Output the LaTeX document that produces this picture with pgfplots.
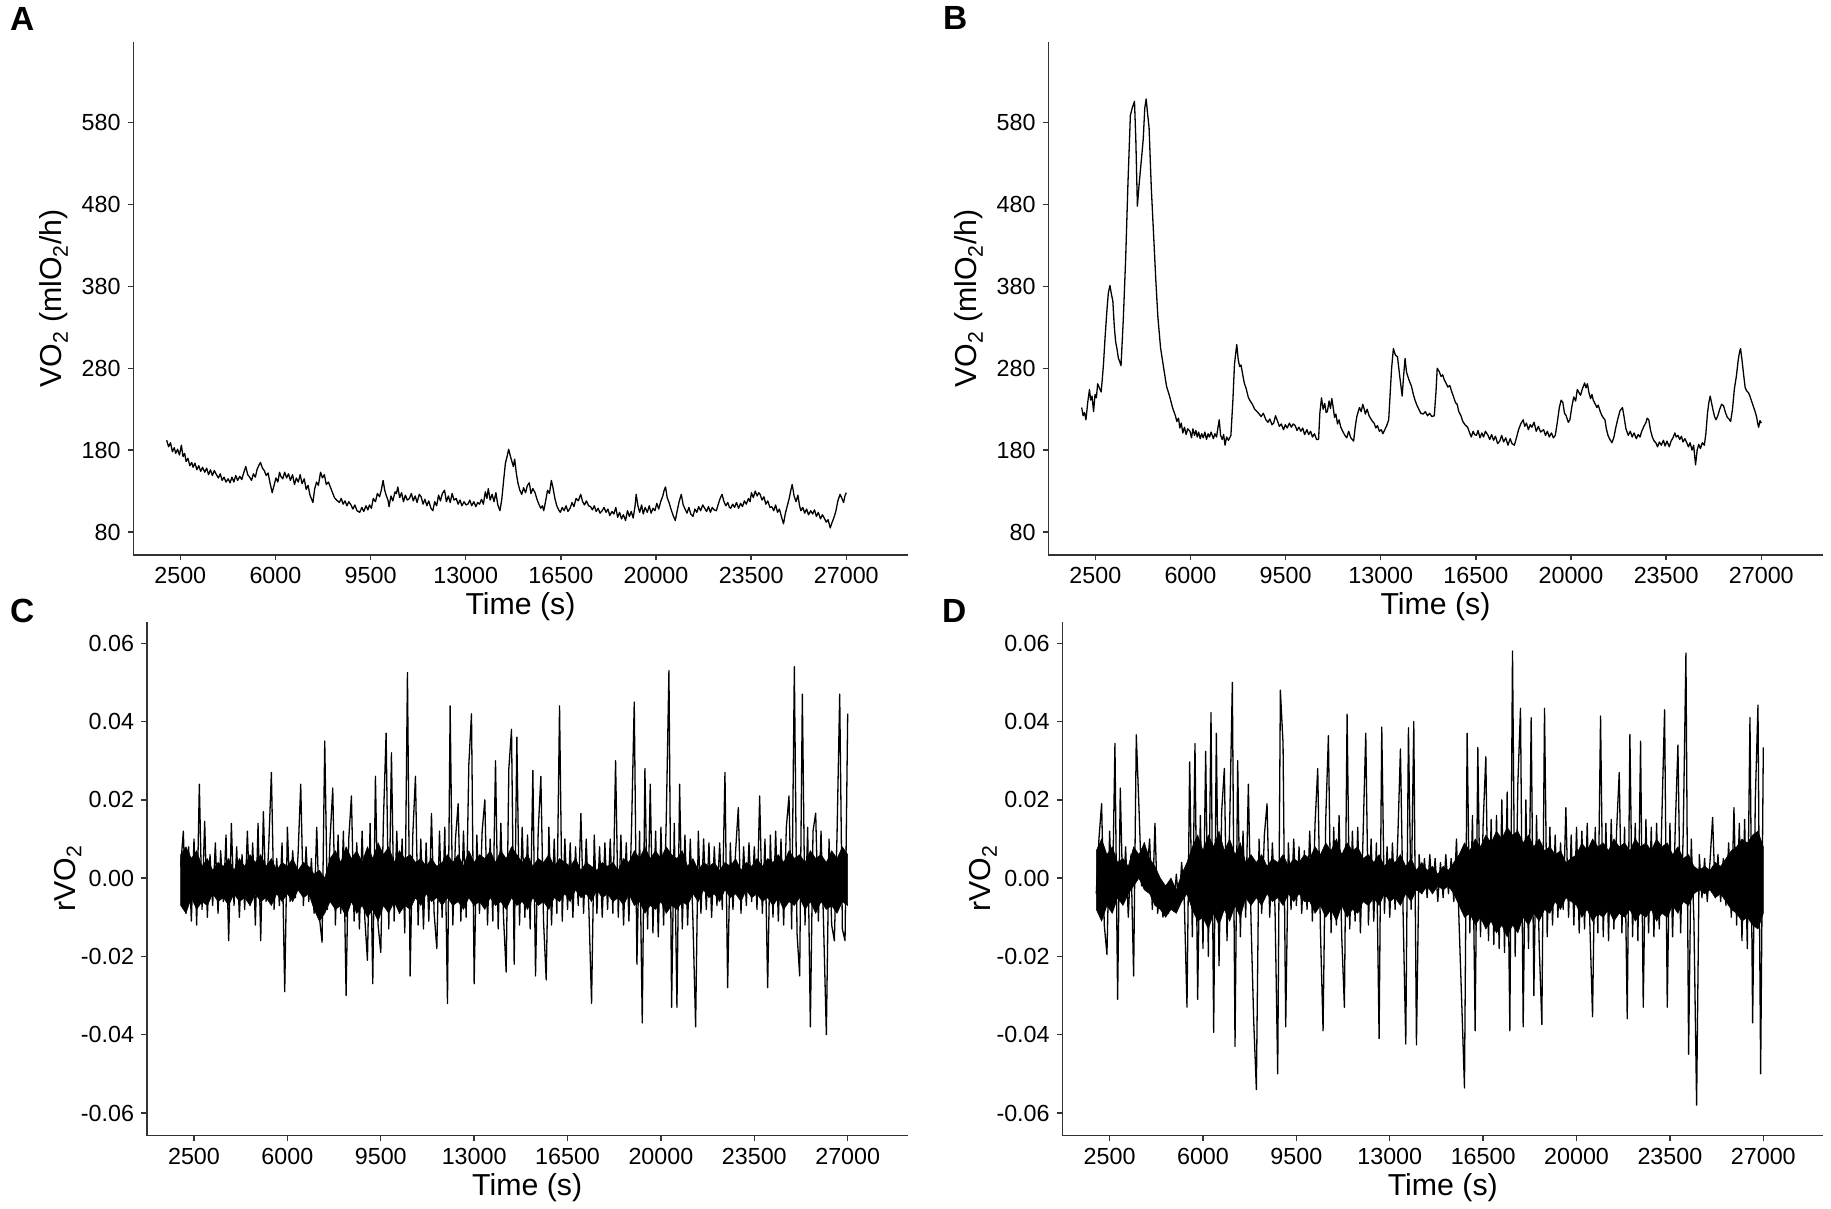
\documentclass[border=0pt]{standalone}
\usepackage{fontspec}
\setmainfont{Liberation Sans}
\usepackage{pgfplots}
\pgfplotsset{compat=1.18}
\begin{document}
\begin{tikzpicture}[x=1pt,y=1pt]
\path[use as bounding box] (0,0) rectangle (1831,1209);
\pgfplotsset{
 panel/.style={
  scale only axis,
  axis x line*=bottom, axis y line*=left,
  axis line style={-, line width=1.6pt, black!80},
  every tick/.style={line width=1.4pt, black!80},
  major tick length=5.5pt,
  tick align=outside,
  scaled x ticks=false, scaled y ticks=false,
  xmin=771, xmax=29259,
  xtick={2500,6000,9500,13000,16500,20000,23500,27000},
  xticklabels={2500,6000,9500,13000,16500,20000,23500,27000},
  ticklabel style={font=\fontsize{23.3}{28}\selectfont, text=black},
  xticklabel style={anchor=north, inner sep=0pt, yshift=-7pt},
  yticklabel style={anchor=east, inner sep=0pt, xshift=-7pt},
  xlabel={Time (s)},
  every axis x label/.style={at={(axis description cs:0.5,0)}, anchor=base, yshift=-60pt, font=\fontsize{30.3}{36}\selectfont},
  every axis y label/.style={at={([xshift=-71.6pt]axis description cs:0,0.5)}, rotate=90, anchor=base, font=\fontsize{30.3}{36}\selectfont},
 },
 toppanel/.style={panel, width=774.4pt, height=513.3pt, ymin=51.9, ymax=678.9,
  ytick={80,180,280,380,480,580}, yticklabels={80,180,280,380,480,580},
  ylabel={VO\textsubscript{2} (mlO\textsubscript{2}/h)}},
 botpanel/.style={panel, width=761pt, height=514pt, xmin=727, xmax=29249, ymin=-0.0658, ymax=0.0655,
  ytick={-0.06,-0.04,-0.02,0,0.02,0.04,0.06}, yticklabels={-0.06,-0.04,-0.02,0.00,0.02,0.04,0.06},
  ylabel={rVO\textsubscript{2}}},
 trace/.style={black, line width=1.3pt, mark=none, line join=round},
 band/.style={fill=black, draw=black, line width=0.5pt, mark=none},
}
% ---------------- A ----------------
\begin{axis}[toppanel, at={(133.3pt,654pt)}, anchor=south west]
\addplot[trace] coordinates {
(2000,192)(2070,184)(2140,189)(2210,178)(2280,183)(2330,176)(2400,181)(2470,174)(2540,186)(2600,172)
(2660,176)(2715,166)(2780,170)(2850,161)(2920,165)(2970,159)(3040,164)(3110,156)(3180,161)(3250,154)
(3320,159)(3400,153)(3470,158)(3540,150)(3610,156)(3680,149)(3750,155)(3830,150)(3900,146)(3970,151)
(4040,143)(4110,147)(4180,141)(4260,145)(4330,140)(4400,147)(4470,141)(4540,149)(4610,143)(4690,148)
(4760,144)(4830,152)(4910,160)(4980,150)(5050,147)(5120,143)(5190,151)(5260,147)(5330,157)(5400,162)
(5450,165)(5520,158)(5590,155)(5660,149)(5730,152)(5800,140)(5880,128)(5950,137)(6020,146)(6090,141)
(6150,153)(6200,148)(6270,145)(6340,153)(6410,146)(6480,151)(6550,143)(6630,150)(6700,138)(6770,146)
(6840,141)(6910,150)(6980,139)(7060,145)(7130,132)(7200,137)(7270,125)(7330,120)(7380,116)(7440,132)
(7510,141)(7580,137)(7660,153)(7730,146)(7800,150)(7870,138)(7950,141)(8030,134)(8100,128)(8170,122)
(8250,119)(8350,116)(8420,121)(8490,114)(8560,118)(8630,112)(8700,117)(8780,113)(8850,108)(8920,113)
(9000,106)(9100,104)(9180,110)(9250,105)(9330,112)(9400,107)(9460,113)(9530,109)(9600,121)(9680,117)
(9750,127)(9830,123)(9900,132)(9960,143)(10020,131)(10080,124)(10140,119)(10180,111)(10250,124)(10320,118)
(10400,129)(10450,127)(10500,135)(10570,122)(10640,128)(10710,117)(10780,125)(10850,119)(10930,121)(11000,127)
(11070,118)(11140,124)(11210,116)(11290,126)(11360,123)(11430,114)(11500,120)(11570,112)(11640,118)(11720,109)
(11790,106)(11860,117)(11930,112)(12000,125)(12070,118)(12140,127)(12220,131)(12290,117)(12360,124)(12430,116)
(12500,127)(12570,119)(12650,121)(12720,114)(12790,119)(12860,112)(12940,117)(13010,113)(13080,114)(13150,119)
(13220,112)(13300,117)(13370,111)(13440,116)(13510,114)(13580,120)(13650,114)(13720,129)(13780,121)(13830,133)
(13900,119)(13970,126)(14040,117)(14110,128)(14180,113)(14260,106)(14330,121)(14400,145)(14460,164)(14520,172)
(14580,181)(14640,173)(14700,166)(14750,160)(14800,169)(14860,152)(14920,140)(14990,131)(15060,126)(15130,134)
(15200,128)(15270,137)(15340,140)(15400,127)(15470,133)(15550,128)(15620,120)(15690,114)(15760,109)(15820,112)
(15870,106)(15940,118)(16010,131)(16080,127)(16150,143)(16210,134)(16280,121)(16350,112)(16420,107)(16480,104)
(16550,110)(16620,106)(16690,112)(16760,105)(16840,109)(16910,116)(16980,111)(17060,121)(17140,118)(17230,126)
(17300,117)(17370,113)(17440,118)(17520,112)(17590,111)(17660,107)(17730,112)(17800,105)(17870,109)(17940,103)
(18020,106)(18090,110)(18160,104)(18230,108)(18300,100)(18380,105)(18450,102)(18520,110)(18590,98)(18660,104)
(18730,96)(18800,101)(18880,94)(18950,106)(19020,99)(19090,105)(19160,97)(19230,112)(19270,126)(19340,111)
(19400,104)(19470,113)(19530,102)(19600,110)(19680,104)(19750,112)(19820,103)(19890,109)(19960,106)(20030,115)
(20100,108)(20170,117)(20250,124)(20300,131)(20350,135)(20410,122)(20480,116)(20550,108)(20620,101)(20710,94)
(20780,106)(20850,117)(20930,126)(21000,113)(21070,108)(21140,103)(21210,110)(21280,102)(21360,99)(21430,108)
(21500,104)(21570,111)(21640,106)(21720,113)(21790,109)(21860,105)(21930,111)(22000,104)(22070,110)(22140,107)
(22220,106)(22290,114)(22360,121)(22430,126)(22500,117)(22570,112)(22640,116)(22700,110)(22750,109)(22820,114)
(22890,110)(22960,116)(23040,109)(23110,115)(23180,111)(23250,118)(23320,114)(23400,121)(23460,117)(23510,128)
(23580,122)(23650,130)(23720,124)(23780,128)(23830,126)(23900,119)(23970,123)(24040,114)(24110,118)(24190,110)
(24260,111)(24330,106)(24400,113)(24470,104)(24540,108)(24620,98)(24690,90)(24760,103)(24830,112)(24900,121)
(24960,131)(25010,138)(25080,124)(25150,117)(25220,125)(25280,112)(25330,106)(25400,110)(25470,103)(25540,108)
(25610,101)(25690,106)(25760,102)(25830,107)(25900,99)(25970,104)(26050,96)(26120,101)(26190,97)(26260,92)
(26330,95)(26410,85)(26480,92)(26550,98)(26620,106)(26690,118)(26770,126)(26840,121)(26900,116)(26950,124)
(27000,128)};
\end{axis}
% ---------------- B ----------------
\begin{axis}[toppanel, at={(1048.3pt,654pt)}, anchor=south west]
\addplot[trace] coordinates {
(2000,232)(2050,222)(2100,226)(2156,217)(2220,238)(2285,254)(2330,241)(2380,246)(2436,227)(2490,248)
(2540,244)(2586,261)(2650,256)(2715,251)(2760,268)(2801,285)(2860,318)(2930,352)(2980,372)(3038,381)
(3090,371)(3145,362)(3200,330)(3250,312)(3296,304)(3350,292)(3400,288)(3446,283)(3530,340)(3618,415)
(3700,505)(3790,589)(3860,598)(3941,606)(3990,560)(4048,478)(4100,500)(4156,521)(4210,540)(4263,560)
(4320,598)(4371,609)(4420,592)(4478,574)(4560,500)(4650,439)(4730,385)(4801,343)(4900,305)(5016,280)
(5120,258)(5231,246)(5340,232)(5446,222)(5500,215)(5560,219)(5610,207)(5661,213)(5720,201)(5780,208)
(5840,199)(5900,206)(5983,203)(6040,195)(6090,206)(6150,198)(6200,204)(6250,196)(6300,202)(6360,194)
(6413,200)(6470,195)(6530,202)(6590,193)(6650,200)(6700,196)(6760,202)(6843,194)(6900,200)(6960,196)
(7000,205)(7058,217)(7110,198)(7170,193)(7220,199)(7273,186)(7330,196)(7400,192)(7488,198)(7560,240)
(7620,285)(7703,309)(7760,290)(7810,282)(7860,284)(7918,273)(7980,262)(8050,255)(8133,244)(8200,240)
(8280,236)(8360,230)(8456,227)(8530,224)(8600,221)(8680,225)(8778,217)(8850,214)(8920,218)(9000,211)
(9060,213)(9130,222)(9208,215)(9270,209)(9340,212)(9423,205)(9490,211)(9560,207)(9640,213)(9710,208)
(9780,212)(9853,210)(9920,204)(9990,208)(10060,203)(10130,207)(10200,199)(10283,205)(10350,199)(10420,203)
(10490,196)(10560,200)(10640,193)(10713,193)(10760,225)(10821,244)(10880,230)(10940,237)(10990,226)(11036,227)
(11100,240)(11150,231)(11200,243)(11251,232)(11300,220)(11350,224)(11410,212)(11466,217)(11530,208)(11600,203)
(11681,198)(11750,195)(11820,203)(11900,195)(12003,191)(12060,208)(12120,221)(12180,228)(12218,232)(12280,227)
(12340,236)(12400,229)(12433,224)(12500,230)(12570,222)(12640,218)(12700,215)(12756,213)(12820,207)(12880,210)
(12950,203)(13020,205)(13078,200)(13150,205)(13220,210)(13293,217)(13340,245)(13400,280)(13465,304)(13540,296)
(13616,294)(13700,270)(13788,246)(13840,270)(13895,292)(13950,275)(14046,265)(14130,258)(14200,248)(14261,241)
(14330,235)(14400,230)(14476,225)(14560,224)(14640,227)(14720,222)(14798,225)(14880,221)(14970,222)(15030,250)
(15078,280)(15150,276)(15220,270)(15280,272)(15336,266)(15400,262)(15470,257)(15540,259)(15615,251)(15680,245)
(15750,238)(15810,236)(15873,227)(15950,222)(16020,215)(16100,211)(16196,208)(16260,202)(16330,196)(16400,203)
(16450,199)(16518,198)(16580,204)(16650,195)(16720,201)(16780,196)(16850,203)(16948,198)(17010,193)(17080,199)
(17150,192)(17220,197)(17300,188)(17378,191)(17450,198)(17520,190)(17600,195)(17680,186)(17760,194)(17830,188)
(17916,186)(18000,196)(18070,205)(18150,212)(18238,217)(18300,209)(18360,213)(18430,205)(18500,211)(18561,208)
(18640,214)(18720,203)(18800,209)(18880,202)(18991,205)(19060,198)(19130,203)(19200,196)(19280,201)(19350,195)
(19421,198)(19500,215)(19570,232)(19636,241)(19700,238)(19760,225)(19820,222)(19900,214)(19958,217)(20030,233)
(20100,245)(20170,240)(20230,254)(20281,251)(20350,247)(20420,255)(20500,262)(20550,256)(20603,261)(20660,250)
(20720,243)(20770,248)(20818,241)(20880,237)(20950,232)(21000,235)(21076,227)(21140,222)(21200,219)(21248,217)
(21300,206)(21360,198)(21430,193)(21506,189)(21580,196)(21650,208)(21720,218)(21800,228)(21893,232)(21950,221)
(22020,206)(22108,198)(22180,203)(22250,196)(22320,201)(22400,194)(22470,199)(22538,196)(22600,203)(22680,209)
(22760,214)(22800,219)(22861,217)(22920,205)(22990,196)(23060,191)(23120,189)(23183,184)(23250,190)(23320,186)
(23400,192)(23460,185)(23530,191)(23613,184)(23680,191)(23750,195)(23820,201)(23870,196)(23936,198)(24000,193)
(24060,197)(24120,190)(24190,194)(24258,189)(24320,184)(24380,189)(24450,180)(24510,186)(24581,162)(24640,180)
(24700,187)(24760,182)(24830,189)(24903,186)(24960,200)(25020,225)(25070,238)(25118,246)(25180,236)(25230,228)
(25280,221)(25333,217)(25400,222)(25470,230)(25540,236)(25613,234)(25680,226)(25750,220)(25810,218)(25871,215)
(25940,230)(26010,255)(26086,271)(26150,290)(26200,300)(26236,304)(26290,290)(26350,272)(26408,256)(26470,252)
(26530,250)(26580,246)(26640,240)(26700,234)(26774,227)(26830,220)(26870,212)(26903,208)(26950,216)(27000,213)};
\end{axis}
% ---------------- C ----------------
\begin{axis}[botpanel, at={(146.7pt,73.3pt)}, anchor=south west]
\addplot[band] coordinates {
(2000,0.006)(2200,0.008)(2400,0.005)(2600,0.007)(2800,0.003)(3000,0.005)(3200,0.002)(3400,0.004)(3600,0.003)(3800,0.005)
(4000,0.002)(4200,0.005)(4400,0.003)(4600,0.006)(4800,0.004)(5000,0.006)(5200,0.003)(5400,0.005)(5600,0.002)(5800,0.004)
(6000,0.003)(6200,0.005)(6400,0.002)(6600,0.004)(6800,0.003)(7000,0.001)(7200,0.002)(7400,0.000)(7600,0.005)(7800,0.007)
(8000,0.004)(8200,0.008)(8400,0.005)(8600,0.007)(8800,0.004)(9000,0.008)(9200,0.005)(9400,0.009)(9600,0.006)(9800,0.008)
(10000,0.004)(10200,0.007)(10400,0.005)(10600,0.006)(10800,0.004)(11000,0.005)(11200,0.003)(11400,0.005)(11600,0.003)(11800,0.004)
(12000,0.006)(12200,0.004)(12400,0.006)(12600,0.003)(12800,0.007)(13000,0.004)(13200,0.006)(13400,0.005)(13600,0.007)(13800,0.004)
(14000,0.007)(14200,0.005)(14400,0.008)(14600,0.006)(14800,0.004)(15000,0.006)(15200,0.003)(15400,0.005)(15600,0.004)(15800,0.006)
(16000,0.003)(16200,0.005)(16400,0.004)(16600,0.003)(16800,0.005)(17000,0.002)(17200,0.004)(17400,0.003)(17600,0.002)(17800,0.004)
(18000,0.003)(18200,0.004)(18400,0.002)(18600,0.005)(18800,0.004)(19000,0.007)(19200,0.005)(19400,0.008)(19600,0.005)(19800,0.007)
(20000,0.005)(20200,0.008)(20400,0.006)(20600,0.005)(20800,0.007)(21000,0.003)(21200,0.005)(21400,0.002)(21600,0.004)(21800,0.003)
(22000,0.004)(22200,0.002)(22400,0.004)(22600,0.003)(22800,0.005)(23000,0.002)(23200,0.004)(23400,0.003)(23600,0.005)(23800,0.003)
(24000,0.005)(24200,0.004)(24400,0.006)(24600,0.004)(24800,0.007)(25000,0.005)(25200,0.006)(25400,0.004)(25600,0.007)(25800,0.005)
(26000,0.006)(26200,0.004)(26400,0.007)(26600,0.005)(26800,0.008)(27000,0.006)
(27000,-0.007)(26800,-0.006)(26600,-0.009)(26400,-0.007)(26200,-0.008)(26000,-0.006)
(25800,-0.009)(25600,-0.006)(25400,-0.008)(25200,-0.005)(25000,-0.007)(24800,-0.006)(24600,-0.008)(24400,-0.005)(24200,-0.007)(24000,-0.005)
(23800,-0.006)(23600,-0.004)(23400,-0.005)(23200,-0.003)(23000,-0.006)(22800,-0.004)(22600,-0.005)(22400,-0.003)(22200,-0.006)(22000,-0.004)
(21800,-0.005)(21600,-0.003)(21400,-0.006)(21200,-0.004)(21000,-0.007)(20800,-0.006)(20600,-0.008)(20400,-0.007)(20200,-0.009)(20000,-0.006)
(19800,-0.008)(19600,-0.007)(19400,-0.009)(19200,-0.006)(19000,-0.007)(18800,-0.004)(18600,-0.007)(18400,-0.005)(18200,-0.006)(18000,-0.004)
(17800,-0.005)(17600,-0.003)(17400,-0.006)(17200,-0.004)(17000,-0.005)(16800,-0.003)(16600,-0.006)(16400,-0.004)(16200,-0.006)(16000,-0.005)
(15800,-0.008)(15600,-0.006)(15400,-0.007)(15200,-0.005)(15000,-0.008)(14800,-0.006)(14600,-0.007)(14400,-0.005)(14200,-0.008)(14000,-0.006)
(13800,-0.007)(13600,-0.005)(13400,-0.008)(13200,-0.006)(13000,-0.007)(12800,-0.005)(12600,-0.008)(12400,-0.006)(12200,-0.007)(12000,-0.005)
(11800,-0.007)(11600,-0.005)(11400,-0.006)(11200,-0.004)(11000,-0.007)(10800,-0.005)(10600,-0.008)(10400,-0.007)(10200,-0.009)(10000,-0.006)
(9800,-0.009)(9600,-0.007)(9400,-0.011)(9200,-0.008)(9000,-0.010)(8800,-0.007)(8600,-0.009)(8400,-0.006)(8200,-0.010)(8000,-0.007)
(7800,-0.008)(7600,-0.006)(7400,-0.009)(7200,-0.011)(7000,-0.008)(6800,-0.004)(6600,-0.005)(6400,-0.003)(6200,-0.006)(6000,-0.004)
(5800,-0.006)(5600,-0.004)(5400,-0.007)(5200,-0.005)(5000,-0.006)(4800,-0.004)(4600,-0.007)(4400,-0.005)(4200,-0.006)(4000,-0.004)
(3800,-0.007)(3600,-0.005)(3400,-0.006)(3200,-0.004)(3000,-0.007)(2800,-0.006)(2600,-0.008)(2400,-0.005)(2200,-0.009)(2000,-0.007)} -- cycle;
\addplot[trace] coordinates {
(2000,0.003)(2100,0.012)(2200,-0.009)(2300,0.008)(2400,-0.011)(2500,0.010)(2600,-0.012)(2700,0.024)(2800,-0.008)(2900,0.0145)
(3000,-0.010)(3100,0.006)(3200,-0.007)(3300,0.009)(3400,-0.009)(3500,0.007)(3600,-0.006)(3700,0.011)(3800,-0.016)(3900,0.014)
(4000,-0.007)(4100,0.008)(4200,-0.010)(4300,0.006)(4400,-0.008)(4500,0.012)(4600,-0.007)(4700,0.009)(4800,-0.012)(4900,0.014)
(5000,-0.016)(5100,0.017)(5200,-0.006)(5300,0.008)(5400,0.027)(5500,-0.008)(5600,0.005)(5700,-0.007)(5800,0.009)(5900,-0.029)
(6000,0.013)(6100,-0.006)(6200,0.007)(6300,-0.005)(6400,0.006)(6500,0.024)(6600,-0.007)(6700,0.008)(6800,-0.006)(6900,0.005)
(7000,-0.009)(7100,0.013)(7200,-0.010)(7300,-0.0164)(7400,0.035)(7500,-0.008)(7600,0.010)(7700,0.023)(7800,-0.012)(7900,0.011)
(8000,-0.009)(8100,0.012)(8200,-0.030)(8300,0.010)(8400,0.021)(8500,-0.011)(8600,0.009)(8700,-0.013)(8800,0.012)(8900,-0.010)
(9000,-0.021)(9100,0.014)(9200,-0.027)(9300,0.026)(9400,-0.012)(9500,-0.019)(9600,0.015)(9700,0.037)(9800,-0.013)(9900,0.032)
(10000,-0.011)(10100,0.012)(10200,-0.009)(10300,0.010)(10400,-0.014)(10500,0.0525)(10600,-0.025)(10700,0.011)(10800,0.026)(10900,-0.012)
(11000,0.010)(11100,-0.013)(11200,0.009)(11300,-0.011)(11400,0.0165)(11500,-0.009)(11600,-0.018)(11700,0.012)(11800,-0.010)(11900,0.013)
(12000,-0.032)(12100,0.044)(12200,-0.012)(12300,0.010)(12400,0.019)(12500,-0.011)(12600,0.012)(12700,-0.010)(12800,0.029)(12900,0.042)
(13000,-0.027)(13100,0.011)(13200,-0.009)(13300,0.012)(13400,0.020)(13500,-0.012)(13600,0.010)(13700,-0.011)(13800,0.030)(13900,-0.013)
(14000,0.014)(14100,-0.010)(14200,-0.024)(14300,0.028)(14400,0.038)(14500,-0.022)(14600,0.036)(14700,-0.012)(14800,0.013)(14900,-0.010)
(15000,0.011)(15100,-0.013)(15200,0.0275)(15300,-0.025)(15400,0.012)(15500,0.026)(15600,-0.011)(15700,-0.026)(15800,0.013)(15900,-0.012)
(16000,0.010)(16100,-0.009)(16200,0.044)(16300,-0.011)(16400,0.010)(16500,-0.008)(16600,0.009)(16700,-0.010)(16800,0.008)(16900,-0.007)
(17000,0.0165)(17100,-0.009)(17200,0.010)(17300,-0.008)(17400,-0.032)(17500,0.011)(17600,-0.009)(17700,0.008)(17800,-0.010)(17900,0.009)
(18000,-0.008)(18100,0.010)(18200,-0.009)(18300,0.030)(18400,-0.010)(18500,0.011)(18600,-0.012)(18700,0.009)(18800,-0.011)(18900,0.013)
(19000,0.045)(19100,-0.022)(19200,0.012)(19300,-0.037)(19400,0.028)(19500,-0.013)(19600,0.024)(19700,-0.014)(19800,0.012)(19900,-0.015)
(20000,0.013)(20100,-0.012)(20200,0.015)(20300,0.053)(20400,-0.033)(20500,0.014)(20600,-0.033)(20700,0.024)(20800,-0.013)(20900,0.011)
(21000,-0.012)(21100,0.010)(21200,-0.011)(21300,-0.038)(21400,0.012)(21500,-0.009)(21600,0.010)(21700,-0.008)(21800,0.009)(21900,-0.010)
(22000,0.008)(22100,-0.007)(22200,0.009)(22300,-0.008)(22400,0.027)(22500,-0.028)(22600,0.009)(22700,-0.008)(22800,0.007)(22900,0.018)
(23000,-0.009)(23100,0.008)(23200,-0.007)(23300,0.009)(23400,-0.006)(23500,0.008)(23600,-0.008)(23700,0.021)(23800,-0.009)(23900,0.010)
(24000,-0.028)(24100,0.011)(24200,-0.010)(24300,0.012)(24400,-0.011)(24500,0.010)(24600,-0.012)(24700,0.013)(24800,0.021)(24900,-0.013)
(25000,0.054)(25100,-0.014)(25200,-0.025)(25300,0.047)(25400,-0.012)(25500,0.013)(25600,-0.038)(25700,0.012)(25800,0.0166)(25900,-0.011)
(26000,0.012)(26100,-0.013)(26200,-0.040)(26300,0.010)(26400,-0.012)(26500,-0.016)(26600,0.011)(26700,0.047)(26800,-0.013)(26900,-0.016)
(27000,0.042)};
\end{axis}
% ---------------- D ----------------
\begin{axis}[botpanel, at={(1062.3pt,73.3pt)}, anchor=south west]
\addplot[band] coordinates {
(2000,0.007)(2200,0.010)(2400,0.006)(2600,0.008)(2800,0.004)(3000,0.005)(3200,0.003)(3400,0.008)(3600,0.006)(3800,0.009)
(4000,0.005)(4200,0.003)(4400,0.000)(4600,-0.002)(4800,0.000)(5000,-0.003)(5200,0.001)(5400,0.004)(5600,0.008)(5800,0.011)
(6000,0.007)(6200,0.011)(6400,0.008)(6600,0.012)(6800,0.007)(7000,0.010)(7200,0.006)(7400,0.009)(7600,0.004)(7800,0.006)
(8000,0.004)(8200,0.006)(8400,0.003)(8600,0.005)(8800,0.004)(9000,0.006)(9200,0.003)(9400,0.005)(9600,0.004)(9800,0.006)
(10000,0.005)(10200,0.008)(10400,0.006)(10600,0.009)(10800,0.007)(11000,0.010)(11200,0.006)(11400,0.009)(11600,0.007)(11800,0.008)
(12000,0.005)(12200,0.006)(12400,0.004)(12600,0.006)(12800,0.003)(13000,0.005)(13200,0.004)(13400,0.006)(13600,0.003)(13800,0.005)
(14000,0.002)(14200,0.004)(14400,0.002)(14600,0.003)(14800,0.001)(15000,0.003)(15200,0.002)(15400,0.004)(15600,0.006)(15800,0.009)
(16000,0.007)(16200,0.010)(16400,0.008)(16600,0.011)(16800,0.009)(17000,0.012)(17200,0.010)(17400,0.013)(17600,0.011)(17800,0.012)
(18000,0.009)(18200,0.011)(18400,0.008)(18600,0.010)(18800,0.007)(19000,0.008)(19200,0.006)(19400,0.007)(19600,0.004)(19800,0.005)
(20000,0.006)(20200,0.009)(20400,0.007)(20600,0.010)(20800,0.008)(21000,0.009)(21200,0.007)(21400,0.010)(21600,0.008)(21800,0.009)
(22000,0.007)(22200,0.010)(22400,0.008)(22600,0.009)(22800,0.007)(23000,0.010)(23200,0.008)(23400,0.009)(23600,0.006)(23800,0.008)
(24000,0.005)(24200,0.006)(24400,0.003)(24600,0.002)(24800,0.003)(25000,0.002)(25200,0.004)(25400,0.003)(25600,0.005)(25800,0.007)
(26000,0.008)(26200,0.010)(26400,0.009)(26600,0.011)(26800,0.012)(27000,0.008)
(27000,-0.009)(26800,-0.013)(26600,-0.012)(26400,-0.010)(26200,-0.011)(26000,-0.009)
(25800,-0.008)(25600,-0.006)(25400,-0.004)(25200,-0.005)(25000,-0.003)(24800,-0.004)(24600,-0.003)(24400,-0.004)(24200,-0.007)(24000,-0.006)
(23800,-0.009)(23600,-0.007)(23400,-0.010)(23200,-0.009)(23000,-0.011)(22800,-0.008)(22600,-0.010)(22400,-0.009)(22200,-0.011)(22000,-0.008)
(21800,-0.010)(21600,-0.009)(21400,-0.011)(21200,-0.008)(21000,-0.010)(20800,-0.009)(20600,-0.011)(20400,-0.008)(20200,-0.010)(20000,-0.007)
(19800,-0.006)(19600,-0.005)(19400,-0.008)(19200,-0.006)(19000,-0.009)(18800,-0.008)(18600,-0.011)(18400,-0.009)(18200,-0.012)(18000,-0.010)
(17800,-0.014)(17600,-0.012)(17400,-0.015)(17200,-0.012)(17000,-0.014)(16800,-0.011)(16600,-0.013)(16400,-0.010)(16200,-0.012)(16000,-0.009)
(15800,-0.010)(15600,-0.007)(15400,-0.004)(15200,-0.002)(15000,-0.003)(14800,-0.002)(14600,-0.004)(14400,-0.002)(14200,-0.004)(14000,-0.003)
(13800,-0.006)(13600,-0.004)(13400,-0.007)(13200,-0.005)(13000,-0.006)(12800,-0.004)(12600,-0.007)(12400,-0.005)(12200,-0.007)(12000,-0.006)
(11800,-0.009)(11600,-0.008)(11400,-0.010)(11200,-0.007)(11000,-0.011)(10800,-0.008)(10600,-0.010)(10400,-0.007)(10200,-0.009)(10000,-0.006)
(9800,-0.006)(9600,-0.004)(9400,-0.006)(9200,-0.004)(9000,-0.007)(8800,-0.005)(8600,-0.006)(8400,-0.004)(8200,-0.007)(8000,-0.005)
(7800,-0.007)(7600,-0.005)(7400,-0.010)(7200,-0.007)(7000,-0.011)(6800,-0.008)(6600,-0.012)(6400,-0.009)(6200,-0.013)(6000,-0.010)
(5800,-0.011)(5600,-0.008)(5400,-0.004)(5200,-0.006)(5000,-0.009)(4800,-0.008)(4600,-0.010)(4400,-0.008)(4200,-0.007)(4000,-0.004)
(3800,-0.003)(3600,0.000)(3400,-0.002)(3200,-0.004)(3000,-0.007)(2800,-0.005)(2600,-0.009)(2400,-0.007)(2200,-0.011)(2000,-0.008)} -- cycle;
\addplot[trace] coordinates {
(2000,-0.004)(2100,0.010)(2200,0.019)(2300,-0.012)(2400,-0.0195)(2500,0.012)(2600,-0.008)(2700,0.0344)(2800,-0.031)(2900,0.023)
(3000,-0.006)(3100,0.008)(3200,-0.010)(3300,0.006)(3400,-0.025)(3500,0.0366)(3600,0.018)(3700,-0.002)(3800,0.009)(3900,0.001)
(4000,0.010)(4100,-0.008)(4200,0.014)(4300,-0.009)(4400,-0.002)(4500,-0.010)(4600,-0.003)(4700,-0.009)(4800,-0.002)(4900,-0.008)
(5000,0.001)(5100,-0.007)(5200,0.004)(5300,-0.006)(5400,-0.033)(5500,0.0297)(5600,-0.015)(5700,0.0344)(5800,-0.031)(5900,0.016)
(6000,-0.018)(6100,0.0324)(6200,-0.020)(6300,0.0423)(6400,-0.0394)(6500,0.037)(6600,-0.0224)(6700,0.017)(6800,0.028)(6900,-0.016)
(7000,0.014)(7100,0.050)(7200,-0.043)(7300,0.030)(7400,-0.015)(7500,0.012)(7600,-0.010)(7700,0.024)(7800,-0.011)(7900,-0.0364)
(8000,-0.054)(8100,0.010)(8200,-0.009)(8300,0.011)(8400,0.019)(8500,-0.010)(8600,0.009)(8700,-0.008)(8800,-0.050)(8900,0.048)
(9000,0.0344)(9100,-0.038)(9200,0.009)(9300,-0.008)(9400,0.010)(9500,-0.007)(9600,0.008)(9700,-0.009)(9800,0.007)(9900,-0.008)
(10000,0.012)(10100,-0.011)(10200,0.014)(10300,0.028)(10400,-0.013)(10500,-0.039)(10600,0.015)(10700,0.0364)(10800,-0.014)(10900,0.013)
(11000,-0.012)(11100,0.016)(11200,-0.015)(11300,-0.033)(11400,0.0419)(11500,-0.013)(11600,0.012)(11700,-0.011)(11800,0.013)(11900,-0.014)
(12000,0.011)(12100,0.037)(12200,-0.012)(12300,0.010)(12400,-0.011)(12500,0.009)(12600,-0.041)(12700,0.0386)(12800,-0.009)(12900,0.008)
(13000,-0.010)(13100,0.009)(13200,-0.008)(13300,0.010)(13400,0.033)(13500,-0.009)(13600,-0.0424)(13700,0.0384)(13800,-0.008)(13900,0.040)
(14000,-0.0426)(14100,0.006)(14200,-0.004)(14300,0.005)(14400,-0.005)(14500,0.006)(14600,-0.004)(14700,0.005)(14800,-0.006)(14900,0.004)
(15000,-0.005)(15100,0.006)(15200,-0.004)(15300,0.005)(15400,-0.006)(15500,0.010)(15600,-0.012)(15700,-0.0324)(15800,-0.0536)(15900,0.037)
(16000,-0.014)(16100,0.016)(16200,-0.039)(16300,0.0334)(16400,-0.015)(16500,0.014)(16600,0.031)(16700,-0.016)(16800,0.015)(16900,-0.017)
(17000,0.016)(17100,-0.018)(17200,0.020)(17300,-0.019)(17400,0.022)(17500,-0.039)(17600,0.058)(17700,-0.020)(17800,0.024)(17900,0.0434)
(18000,-0.038)(18100,0.020)(18200,-0.018)(18300,0.041)(18400,-0.030)(18500,0.016)(18600,-0.017)(18700,-0.0374)(18800,0.0434)(18900,-0.015)
(19000,0.013)(19100,-0.012)(19200,0.011)(19300,-0.010)(19400,0.009)(19500,-0.008)(19600,0.018)(19700,-0.010)(19800,0.011)(19900,-0.012)
(20000,0.013)(20100,-0.014)(20200,0.012)(20300,-0.013)(20400,0.014)(20500,-0.012)(20600,-0.0354)(20700,0.013)(20800,-0.014)(20900,0.0414)
(21000,-0.015)(21100,0.014)(21200,-0.016)(21300,0.015)(21400,-0.013)(21500,0.012)(21600,0.027)(21700,-0.014)(21800,0.013)(21900,-0.0359)
(22000,0.0367)(22100,-0.015)(22200,0.014)(22300,-0.016)(22400,0.035)(22500,-0.033)(22600,0.015)(22700,-0.014)(22800,0.013)(22900,-0.015)
(23000,0.014)(23100,-0.013)(23200,0.016)(23300,0.043)(23400,-0.033)(23500,0.014)(23600,-0.015)(23700,0.013)(23800,0.034)(23900,-0.014)
(24000,0.012)(24100,0.0575)(24200,-0.045)(24300,0.010)(24400,-0.011)(24500,-0.058)(24600,0.006)(24700,-0.005)(24800,0.005)(24900,-0.006)
(25000,0.004)(25100,0.0155)(25200,-0.005)(25300,0.006)(25400,-0.006)(25500,0.005)(25600,-0.007)(25700,0.009)(25800,-0.010)(25900,0.018)
(26000,-0.012)(26100,0.014)(26200,-0.016)(26300,0.015)(26400,-0.018)(26500,0.041)(26600,-0.037)(26700,0.020)(26800,0.0442)(26900,-0.050)
(27000,0.0334)};
\end{axis}
% panel letters
\node[anchor=base west, inner sep=0pt, font=\fontsize{33.5}{40}\selectfont\bfseries] at (10,1178) {A};
\node[anchor=base west, inner sep=0pt, font=\fontsize{33.5}{40}\selectfont\bfseries] at (943,1179) {B};
\node[anchor=base west, inner sep=0pt, font=\fontsize{33.5}{40}\selectfont\bfseries] at (10,586) {C};
\node[anchor=base west, inner sep=0pt, font=\fontsize{33.5}{40}\selectfont\bfseries] at (942,586) {D};
\end{tikzpicture}
\end{document}
